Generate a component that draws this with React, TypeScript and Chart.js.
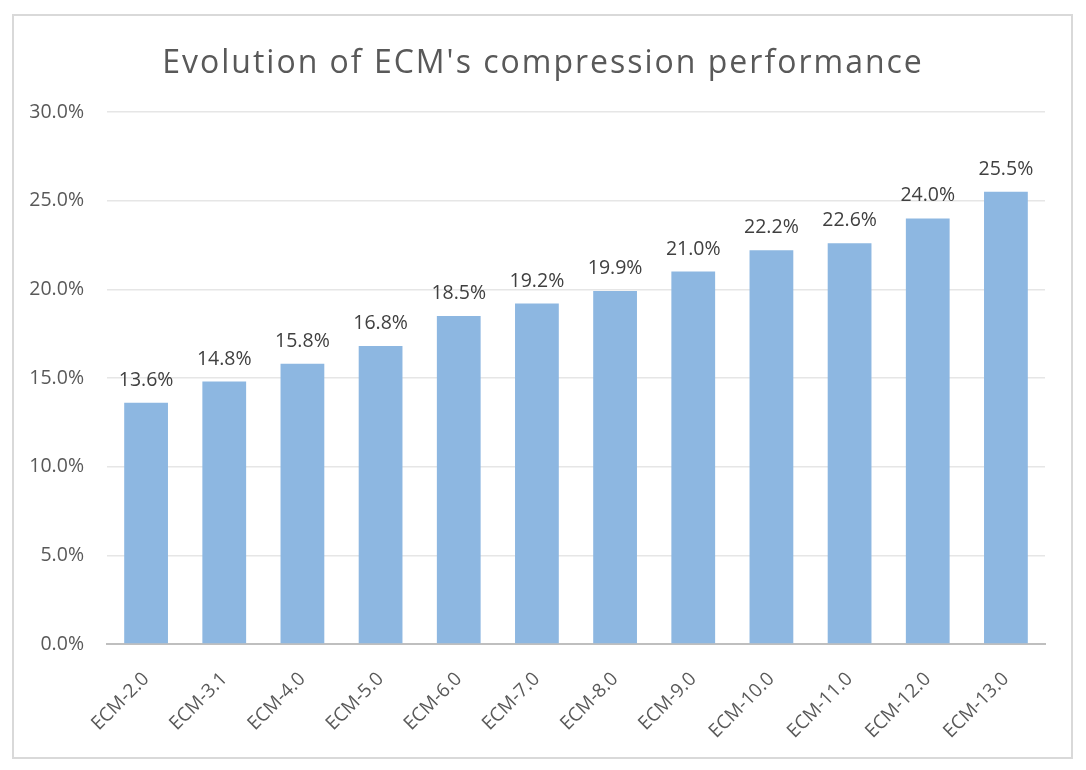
import { useEffect, useRef } from 'react';
import Chart from 'chart.js/auto';

const versions = [
  'ECM-2.0', 'ECM-3.1', 'ECM-4.0', 'ECM-5.0', 'ECM-6.0', 'ECM-7.0',
  'ECM-8.0', 'ECM-9.0', 'ECM-10.0', 'ECM-11.0', 'ECM-12.0', 'ECM-13.0',
];
const gains = [13.6, 14.8, 15.8, 16.8, 18.5, 19.2, 19.9, 21.0, 22.2, 22.6, 24.0, 25.5];
const yTicks = [0, 5, 10, 15, 20, 25, 30];
const chartTitle = "Evolution of ECM's compression performance";

const FONT = '"Open Sans", "Noto Sans", sans-serif';

// title and value labels drawn by hand, Excel style
const excelLook = {
  id: 'excelLook',
  afterDatasetsDraw(chart: any) {
    const { ctx } = chart;
    ctx.save();
    ctx.fillStyle = '#404040';
    ctx.font = `19.5px ${FONT}`;
    ctx.textAlign = 'center';
    ctx.textBaseline = 'alphabetic';
    chart.getDatasetMeta(0).data.forEach((bar: any, i: number) => {
      ctx.fillText(gains[i].toFixed(1) + '%', bar.x, bar.y - 17);
    });

    ctx.fillStyle = '#595959';
    ctx.font = `32px ${FONT}`;
    (ctx as any).letterSpacing = '2px';
    ctx.fillText(chartTitle, chart.width / 2, 73);
    ctx.restore();
  },
};

export default function App() {
  const canvasRef = useRef<HTMLCanvasElement>(null);
  const chartRef = useRef<Chart | null>(null);

  useEffect(() => {
    if (!canvasRef.current) return;
    if (chartRef.current) chartRef.current.destroy();

    chartRef.current = new Chart(canvasRef.current, {
      type: 'bar',
      data: {
        labels: versions,
        datasets: [
          {
            data: gains,
            backgroundColor: '#8DB7E1',
            categoryPercentage: 1,
            barPercentage: 0.56,
          },
        ],
      },
      options: {
        responsive: false,
        animation: false,
        layout: { padding: { top: 112, right: 41, left: 0, bottom: 0 } },
        plugins: {
          legend: { display: false },
          title: { display: false },
          tooltip: { enabled: false },
        },
        scales: {
          x: {
            grid: { display: false },
            border: { color: '#BFBFBF', width: 2 },
            ticks: {
              color: '#595959',
              font: { family: FONT, size: 19 },
              minRotation: 45,
              maxRotation: 45,
              padding: 16,
            },
            afterFit(scale: any) {
              scale.height = 126;
            },
          },
          y: {
            min: 0,
            max: 30,
            afterBuildTicks(scale: any) {
              scale.ticks = yTicks.map((v) => ({ value: v }));
            },
            grid: { color: '#E6E6E6', lineWidth: 1.5, drawTicks: false },
            border: { display: false },
            ticks: {
              color: '#595959',
              font: { family: FONT, size: 19.5 },
              padding: 23,
              callback: (v: any) => Number(v).toFixed(1) + '%',
            },
            afterFit(scale: any) {
              scale.width = 107;
            },
          },
        },
      },
      plugins: [excelLook],
    });

    return () => {
      if (chartRef.current) chartRef.current.destroy();
    };
  }, []);

  return (
    <div style={{ position: 'absolute', left: 0, top: 0, width: 1086, height: 770, background: '#fff' }}>
      <div
        style={{
          position: 'absolute',
          left: 12,
          top: 14,
          width: 1057,
          height: 741,
          border: '2px solid #D9D9D9',
        }}
      />
      <canvas
        ref={canvasRef}
        width={1086}
        height={770}
        style={{ position: 'absolute', left: 0, top: 0, width: 1086, height: 770 }}
      />
    </div>
  );
}
